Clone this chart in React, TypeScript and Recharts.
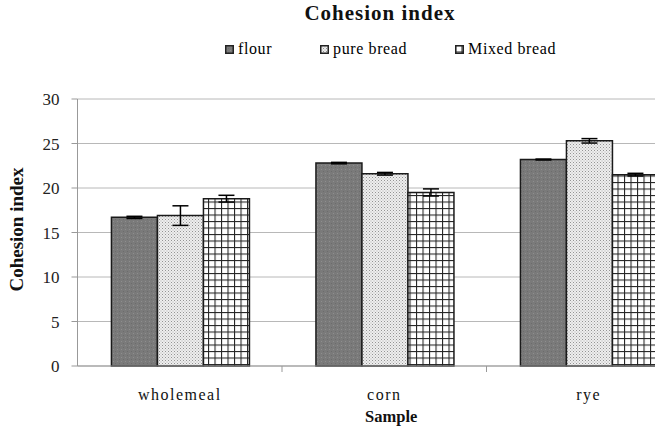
import React from 'react';
import { BarChart, Bar, XAxis, YAxis, CartesianGrid, ErrorBar, Legend } from 'recharts';

const categories = ['wholemeal', 'corn', 'rye'];
const flour = [16.7, 22.8, 23.2];
const flourErr = [0.12, 0.08, 0.05];
const pureBread = [16.9, 21.6, 25.3];
const pureBreadErr = [1.1, 0.15, 0.25];
const mixedBread = [18.8, 19.5, 21.5];
const mixedBreadErr = [0.38, 0.4, 0.15];
const yTicks = [0, 5, 10, 15, 20, 25, 30];

const series = [
  { key: 'flour', err: 'flourErr', name: 'flour', fill: 'url(#patFlour)' },
  { key: 'pure', err: 'pureErr', name: 'pure bread', fill: 'url(#patPure)' },
  { key: 'mixed', err: 'mixedErr', name: 'Mixed bread', fill: 'url(#patMixed)' },
];

const data = categories.map((c, i) => ({
  name: c,
  flour: flour[i],
  flourErr: flourErr[i],
  pure: pureBread[i],
  pureErr: pureBreadErr[i],
  mixed: mixedBread[i],
  mixedErr: mixedBreadErr[i],
}));

const FONT = 'Liberation Serif, serif';

const XTick = (props: any) => {
  const { x, y, payload, width } = props;
  const half = payload && typeof payload.offset === 'number' && payload.offset > 0
    ? payload.offset
    : width / categories.length / 2;
  return (
    <g>
      <line x1={x + half} x2={x + half} y1={y - 23} y2={y - 17} stroke="#999" strokeWidth={1} />
      <text x={x} y={y} dy="0.71em" textAnchor="middle" fill="#111"
        fontFamily={FONT} fontSize={16} letterSpacing={1.5}>
        {payload.value}
      </text>
    </g>
  );
};

const LegendContent = () => (
  <div style={{ display: 'flex', gap: 48, fontFamily: FONT, fontSize: 16, letterSpacing: 0.6, color: '#000', alignItems: 'center' }}>
    {series.map((s) => (
      <div key={s.key} style={{ display: 'flex', alignItems: 'center', gap: 4 }}>
        <svg width={9} height={9} style={{ display: 'block' }}>
          <rect x={0.75} y={0.75} width={7.5} height={7.5} fill={s.fill} stroke="#222" strokeWidth={1.5} />
        </svg>
        <span>{s.name}</span>
      </div>
    ))}
  </div>
);

export default function App() {
  return (
    <div style={{ position: 'fixed', left: 0, top: 0, width: 655, height: 426, overflow: 'hidden', background: '#fff' }}>
      <svg width={0} height={0} style={{ position: 'absolute' }}>
        <defs>
          <pattern id="patFlour" patternUnits="userSpaceOnUse" width={4} height={4}>
            <rect x={0} y={0} width={4} height={4} fill="#7a7a7a" />
            <rect x={1} y={1} width={1} height={1} fill="#8e8e8e" />
            <rect x={3} y={3} width={1} height={1} fill="#6c6c6c" />
          </pattern>
          <pattern id="patPure" patternUnits="userSpaceOnUse" width={3} height={3}>
            <rect x={0} y={0} width={3} height={3} fill="#eeeeee" />
            <rect x={0} y={0} width={1} height={1} fill="#949494" />
            <rect x={1.5} y={1.5} width={1} height={1} fill="#b0b0b0" />
          </pattern>
          <pattern id="patMixed" patternUnits="userSpaceOnUse" width={6.5} height={6.5}>
            <rect x={0} y={0} width={6.5} height={6.5} fill="#ffffff" />
            <line x1={0.5} y1={0} x2={0.5} y2={6.5} stroke="#222" strokeWidth={1.1} />
            <line x1={0} y1={0.5} x2={6.5} y2={0.5} stroke="#222" strokeWidth={1.1} />
          </pattern>
        </defs>
      </svg>
      <div style={{ position: 'absolute', left: 280, top: 3, width: 200, textAlign: 'center', fontFamily: FONT, fontWeight: 'bold', fontSize: 21, lineHeight: '21px', letterSpacing: 1, color: '#111' }}>
        Cohesion index
      </div>
      <BarChart width={700} height={426} data={data}
        margin={{ top: 81, right: 9, bottom: 0, left: 0 }}
        barCategoryGap="16.6%" barGap={0}>
        <CartesianGrid vertical={false} stroke="#b8b8b8" strokeWidth={1} />
        <XAxis dataKey="name" height={60} axisLine={{ stroke: '#999' }} tickLine={false}
          tickSize={6} tickMargin={17} tick={<XTick />} interval={0}
          label={{ value: 'Sample', position: 'insideBottom', offset: 4, dx: 7, style: { fontFamily: FONT, fontSize: 16.5, fontWeight: 'bold', fill: '#111' } }} />
        <YAxis width={77.5} domain={[0, 30]} ticks={yTicks} interval={0}
          axisLine={{ stroke: '#999' }} tickLine={{ stroke: '#999' }} tickSize={6} tickMargin={12}
          tick={{ fontFamily: FONT, fontSize: 17, fill: '#222' }}
          label={{ value: 'Cohesion index', angle: -90, position: 'center', dx: -22, dy: -3, style: { fontFamily: FONT, fontSize: 19, fontWeight: 'bold', fill: '#111' } }} />
        <Legend verticalAlign="top" content={<LegendContent />}
          wrapperStyle={{ position: 'absolute', top: 40, left: 225, width: 'auto' }} />
        {series.map((s) => (
          <Bar key={s.key} dataKey={s.key} name={s.name} fill={s.fill} stroke="#1a1a1a" strokeWidth={1.5} isAnimationActive={false}>
            <ErrorBar dataKey={s.err} width={8} stroke="#000" strokeWidth={1.5} />
          </Bar>
        ))}
      </BarChart>
    </div>
  );
}
